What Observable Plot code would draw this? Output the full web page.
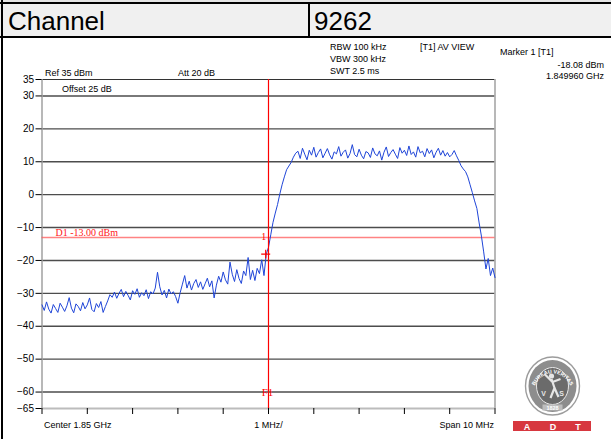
<!DOCTYPE html>
<html><head><meta charset="utf-8">
<script src="https://cdn.jsdelivr.net/npm/d3@7"></script>
<script src="https://cdn.jsdelivr.net/npm/@observablehq/plot@0.6"></script>
<style>
html,body{margin:0;padding:0;background:#fff;}
#page{position:relative;width:611px;height:439px;overflow:hidden;background:#fff;font-family:"Liberation Sans",Arial,sans-serif;}
#page svg{position:absolute;left:0;top:0;}
</style></head>
<body><div id="page"></div>
<script>
// ---- header ----
const channelLabel = "Channel";
const channelValue = "9262";
// ---- instrument settings ----
const settingsRef = ["Ref 35 dBm", "Att 20 dB", "Offset 25 dB"];
const settingsSweep = ["RBW 100 kHz", "VBW 300 kHz", "SWT 2.5 ms"];
const traceMode = "[T1] AV VIEW";
const markerInfo = ["Marker 1 [T1]", "-18.08 dBm", "1.849960 GHz"];
// ---- axes ----
const yTicks = [35, 30, 20, 10, 0, -10, -20, -30, -40, -50, -60, -65];
const gridLevels = [30, 20, 10, 0, -10, -20, -30, -40, -50, -60];
const refLevel = 35;
const bottomLevel = -65;
const xTicksGHz = [1.845, 1.846, 1.847, 1.848, 1.849, 1.850, 1.851, 1.852, 1.853, 1.854, 1.855];
const centerGHz = 1.850;
const xLabels = ["Center 1.85 GHz", "1 MHz/", "Span 10 MHz"];
// ---- display line & marker ----
const d1Level = -13;
const d1Label = "D1 -13.00 dBm";
const markerFreqGHz = 1.84996;
const markerLevel = -18.08;
const markerName = "1";
const f1Label = "F1";
// ---- trace (201 sweep points, 1.845 .. 1.855 GHz) ----
const sweepStartGHz = 1.845;
const sweepStepGHz = 0.00005;
const traceLevels = [
  -33.5, -35.2, -32.6, -34.8, -36.0, -33.4, -34.6, -35.8, -33.0, -34.2,
  -35.5, -33.8, -31.3, -34.5, -35.9, -33.2, -34.0, -35.3, -32.8, -34.7,
  -33.5, -31.4, -34.9, -35.6, -33.1, -34.3, -32.5, -35.8, -34.0,
  -32.3, -30.4, -31.2,
  -29.6, -31.5, -30.0, -28.8, -31.0, -29.4, -30.6, -32.0, -29.2, -30.3,
  -28.6, -31.2, -29.8, -30.7, -28.9, -31.6, -29.5, -30.2, -28.4,
  -23.6, -28.0,
  -30.5, -29.1, -31.4, -28.7, -30.2, -29.5, -31.0, -33.0, -29.8,
  -27.2, -24.6, -28.4, -26.3, -29.0, -27.0, -25.8, -28.2,
  -26.5, -28.8, -27.1, -25.4, -28.0, -26.2, -31.4, -27.5,
  -24.8, -26.6, -23.5, -25.9, -27.2, -20.5, -24.2, -26.4, -22.8, -25.5,
  -27.0, -23.2, -24.6, -19.1, -25.8, -23.0, -26.1, -22.4, -24.0, -19.8,
  -24.6, -18.1, -16.0,
  -12.2, -8.4, -5.6, -3.0, 0.2, 3.0, 5.4, 7.6, 8.7, 9.8, 11.4, 12.6,
  13.2, 11.0, 14.1, 12.3, 10.6, 13.5, 12.0, 14.4, 11.4, 12.8,
  13.9, 11.2, 12.6, 14.0, 12.1, 10.8, 13.0, 12.4, 14.6, 11.7,
  12.9, 13.6, 11.1, 12.5, 15.2, 12.2, 11.5, 13.8, 12.0, 10.9,
  13.1, 12.7, 11.3, 14.2, 12.4, 11.8, 13.3, 10.5, 12.9, 14.5,
  11.6, 12.8, 13.7, 12.3, 11.0, 14.3, 12.6, 13.5, 11.9, 14.8,
  12.2, 13.0, 11.4, 14.6, 12.7, 13.2, 11.5, 14.0, 12.5, 13.6,
  11.2, 12.9, 14.1, 12.0, 13.4, 11.7, 12.8, 11.5, 12.2, 13.4,
  11.8,
  10.4, 8.8, 7.8, 7.0, 5.4, 3.0, 0.6, -1.9, -4.2, -8.6,
  -12.6, -17.4, -22.6, -19.4, -24.6, -22.3, -25.2
];

const trace = traceLevels.map((v, i) => ({f: sweepStartGHz + i * sweepStepGHz, v}));
const marker = [{f: markerFreqGHz, v: markerLevel}];
const sans = '"Liberation Sans", Arial, Helvetica, sans-serif';
const serif = '"Liberation Serif", "Times New Roman", "DejaVu Serif", serif';

const chart = Plot.plot({
  width: 611,
  height: 439,
  marginLeft: 41.5,
  marginRight: 116.5,
  marginTop: 79,
  marginBottom: 31,
  x: {domain: [xTicksGHz[0], xTicksGHz[xTicksGHz.length - 1]]},
  y: {domain: [bottomLevel, refLevel]},
  style: {fontFamily: sans, fontSize: "10px", color: "#000", background: "transparent", overflow: "visible"},
  marks: [
    Plot.ruleY(gridLevels, {stroke: "#4d4d4d", strokeWidth: 1.4}),
    Plot.ruleY([refLevel], {stroke: "#333", strokeWidth: 1}),
    Plot.ruleY([bottomLevel], {stroke: "#bcbcbc", strokeWidth: 2}),
    Plot.ruleX([xTicksGHz[0], xTicksGHz[xTicksGHz.length - 1]], {y1: bottomLevel, y2: refLevel, stroke: "#a0a0a0", strokeWidth: 1.5}),
    Plot.ruleY([d1Level], {stroke: "#ff5a5a", strokeOpacity: 0.75, strokeWidth: 1.5}),
    Plot.line(trace, {x: "f", y: "v", stroke: "#1f45d8", strokeWidth: 1}),
    Plot.ruleX([centerGHz], {y1: bottomLevel, y2: refLevel, stroke: "#ff0000", strokeWidth: 1.2}),
    Plot.dot(marker, {x: "f", y: "v", symbol: "plus", r: 3, stroke: "#ff0000", strokeWidth: 1.2, dx: -1}),
    Plot.text(marker, {x: "f", y: "v", text: () => markerName, dx: -3, dy: -17, fill: "#ff0000", fontFamily: serif, fontSize: 10}),
    Plot.text([f1Label], {x: centerGHz, y: -60, text: d => d, dx: -1, fill: "#ff0000", fontFamily: serif, fontSize: 11}),
    Plot.text([d1Label], {frameAnchor: "left", y: d1Level, text: d => d, dx: 13.5, dy: -5, textAnchor: "start", fill: "#ff2020", fontFamily: serif, fontSize: 10}),
    Plot.axisY({ticks: yTicks, tickSize: 6, tickPadding: 2, label: null, fontSize: 10}),
    Plot.axisX({ticks: xTicksGHz, tickSize: 6, tickFormat: () => "", label: null}),
    Plot.text([xLabels[0]], {x: xTicksGHz[0], y: bottomLevel, text: d => d, dx: 2, dy: 17, textAnchor: "start", fontSize: 9}),
    Plot.text([xLabels[1]], {x: centerGHz, y: bottomLevel, text: d => d, dy: 17, textAnchor: "middle", fontSize: 9}),
    Plot.text([xLabels[2]], {x: xTicksGHz[xTicksGHz.length - 1], y: bottomLevel, text: d => d, dx: -1, dy: 17, textAnchor: "end", fontSize: 9})
  ]
});
document.getElementById("page").appendChild(chart);

// ---- overlay: header table, instrument annotations, logo ----
const ov = d3.select("#page").append("svg")
  .attr("width", 611).attr("height", 439)
  .attr("font-family", sans)
  .style("pointer-events", "none");

ov.append("rect").attr("x", 0).attr("y", 0).attr("width", 611).attr("height", 2).attr("fill", "#e4e4e4");
ov.append("rect").attr("x", 0).attr("y", 4).attr("width", 611).attr("height", 32).attr("fill", "#f0f0f0");
ov.append("rect").attr("x", 0).attr("y", 2).attr("width", 611).attr("height", 2).attr("fill", "#000");
ov.append("rect").attr("x", 0).attr("y", 36).attr("width", 611).attr("height", 2).attr("fill", "#000");
ov.append("rect").attr("x", 1).attr("y", 0).attr("width", 2).attr("height", 439).attr("fill", "#000");
ov.append("rect").attr("x", 308).attr("y", 2).attr("width", 2).attr("height", 36).attr("fill", "#000");
ov.append("text").attr("x", 8).attr("y", 30).attr("font-size", 26).attr("fill", "#000").text(channelLabel);
ov.append("text").attr("x", 314).attr("y", 30).attr("font-size", 26).attr("fill", "#000").text(channelValue);

const small = (x, y, t, anchor) => ov.append("text").attr("x", x).attr("y", y)
  .attr("font-size", 9).attr("fill", "#000").attr("text-anchor", anchor || "start").text(t);
small(45, 76, settingsRef[0]);
small(178, 76, settingsRef[1]);
small(62, 92, settingsRef[2]);
small(330, 50, settingsSweep[0]);
small(330, 62, settingsSweep[1]);
small(330, 74, settingsSweep[2]);
small(420, 50, traceMode);
small(500, 55, markerInfo[0]);
small(604, 68, markerInfo[1], "end");
small(604, 79, markerInfo[2], "end");

// logo
const lg = ov.append("g").attr("transform", "translate(552.5,386)");
lg.append("ellipse").attr("rx", 27).attr("ry", 29).attr("fill", "#fff").attr("stroke", "#9c9c9c").attr("stroke-width", 1.4);
lg.append("ellipse").attr("rx", 24).attr("ry", 26).attr("fill", "#8d8d8d");
lg.append("ellipse").attr("rx", 16).attr("ry", 18.5).attr("fill", "#6b6b6b").attr("stroke", "#e8e8e8").attr("stroke-width", 1);
lg.append("path").attr("id", "arcTop").attr("d", "M -19 4 A 19.5 21.5 0 0 1 19 4").attr("fill", "none");
lg.append("text").attr("font-size", 5.2).attr("fill", "#fff").attr("font-weight", "bold")
  .append("textPath").attr("href", "#arcTop").attr("startOffset", "50%").attr("text-anchor", "middle").text("BUREAU VERITAS");
lg.append("rect").attr("x", -10).attr("y", 18.5).attr("width", 20).attr("height", 6).attr("fill", "#bdbdbd");
lg.append("text").attr("y", 23.6).attr("font-size", 5.5).attr("text-anchor", "middle").attr("fill", "#fff").attr("font-weight", "bold").text("1828");
// stylised figure
lg.append("circle").attr("cx", -1).attr("cy", -10).attr("r", 2.6).attr("fill", "#e6e6e6");
lg.append("path").attr("d", "M -1 -7 L 2 2 L -2 12 M 2 2 L 6 11 M 0 -4 L -8 -12 M 0 -4 L 8 -7").attr("stroke", "#e6e6e6").attr("stroke-width", 2.2).attr("fill", "none");
lg.append("text").attr("x", -9).attr("y", 10).attr("font-size", 7).attr("fill", "#e6e6e6").attr("font-weight", "bold").attr("text-anchor", "middle").text("V");
lg.append("text").attr("x", 9).attr("y", 10).attr("font-size", 7).attr("fill", "#e6e6e6").attr("font-weight", "bold").attr("text-anchor", "middle").text("S");

ov.append("rect").attr("x", 513).attr("y", 421).attr("width", 78).attr("height", 10).attr("fill", "#d7373f");
[["A", 527], ["D", 553], ["T", 578]].forEach(([t, x]) =>
  ov.append("text").attr("x", x).attr("y", 429.5).attr("font-size", 9).attr("font-weight", "bold")
    .attr("fill", "#fff").attr("text-anchor", "middle").text(t));
</script>
</body></html>
